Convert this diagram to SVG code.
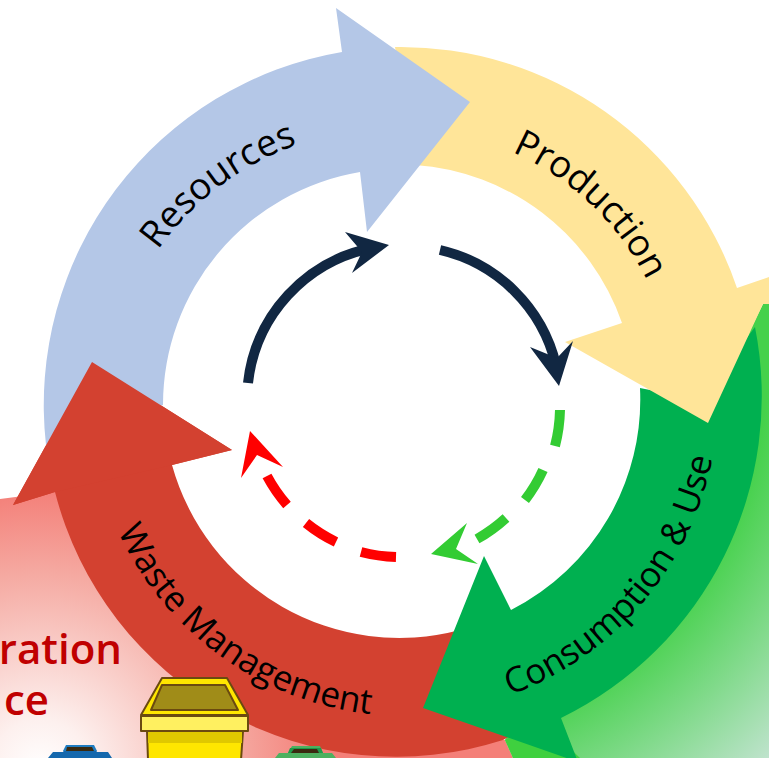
<svg xmlns="http://www.w3.org/2000/svg" width="769" height="758" viewBox="0 0 769 758">
<style>
.lab{font-family:"Open Sans","Noto Sans",sans-serif;font-size:37px;fill:#000}
.lab2{font-family:"Open Sans","Noto Sans",sans-serif;font-size:35px;fill:#000}
.big{font-family:"Open Sans","Noto Sans",sans-serif;font-size:42px;font-weight:600;fill:#c00000;text-anchor:end}
.ring{fill:none;stroke-width:10}
.binl{stroke:#6b4a10;stroke-width:2;stroke-linejoin:round}
</style>
<defs>
<radialGradient id="gg" gradientUnits="userSpaceOnUse" cx="380" cy="350" r="564"><stop offset="0.69" stop-color="#45d14b"/><stop offset="1" stop-color="#bfe3cd"/></radialGradient>
<radialGradient id="rg" gradientUnits="userSpaceOnUse" cx="40" cy="770" r="280"><stop offset="0" stop-color="#fff"/><stop offset="0.18" stop-color="#fdf0ee"/><stop offset="0.7" stop-color="#f5aaa2"/><stop offset="1" stop-color="#f47f78"/></radialGradient>
<path id="p1" d="M158,250A290,290 0 0 1 330,135"/>
<path id="p2" d="M512,152A274,274 0 0 1 676,400"/>
<path id="p3" d="M510,695A316,316 0 0 0 718,400"/>
<path id="p4" d="M118,531A316,316 0 0 0 430,715"/>
</defs>
<path id="bg-red" d="M0,499L70,490L200,660L505,740L513,758H0Z" fill="url(#rg)"/>
<g id="bg-green">
<path d="M763,304H769V758H513L505,740L520,700L720,420L750,330Z" fill="url(#gg)"/>
<path d="M505,740L513,758H580L540,720Z" fill="#3fd03f"/>
</g>
<g id="red"><path d="M13,505L92,362L232,450L172,465A236,236 0 0 0 460,630L520,730L503,740A352,352 0 0 1 55,492Z" fill="#d34130"/></g>
<g id="green"><path d="M755,327A358,358 0 0 1 561,718L578,762L423,708L484,556L511,610A236,236 0 0 0 640,388L700,400Z" fill="#00b050"/></g>
<g id="yellow"><path d="M395,47A355,355 0 0 1 737,288L769,277V304H763L708,423L565,342L622,323A236,236 0 0 0 415,165Z" fill="#ffe599"/></g>
<g id="blue"><path d="M46,445A358,358 0 0 1 342,52L336,8L470,102L367,232L360,172A236,236 0 0 0 163,405Z" fill="#b4c7e7"/></g>
<polygon id="red-head" fill="#d34130" points="13,505 92,362 232,450 172,465 55,492"/>
<g id="connectors">
<path class="ring" stroke="#112742" d="M248,383A155,155 0 0 1 372,248"/>
<polygon fill="#112742" points="389,245 345,232 362,252 352,273"/>
<path class="ring" stroke="#112742" d="M440,250A155,155 0 0 1 556,365"/>
<polygon fill="#112742" points="559,386 530,347 557,358 573,341"/>
<path class="ring" stroke="#33cc33" d="M560,410A157,157 0 0 1 555,446M543,470A157,157 0 0 1 525,500M506,518A157,157 0 0 1 477,539"/>
<polygon fill="#33cc33" points="431,554 467,523 456,549 478,564"/>
<path class="ring" stroke="#f00" d="M396,557A157,157 0 0 1 361,552M336,542A157,157 0 0 1 306,523M287,505A157,157 0 0 1 267,476"/>
<polygon fill="#f00" points="250,431 283,467 257,455 241,478"/>
</g>
<text class="lab"><textPath href="#p1">Resources</textPath></text>
<text class="lab"><textPath href="#p2">Production</textPath></text>
<text class="lab2"><textPath href="#p3">Consumption &amp; Use</textPath></text>
<text class="lab2"><textPath href="#p4">Waste Management</textPath></text>
<text class="big" x="122" y="664">ration</text>
<text class="big" x="49" y="715">ce</text>
<g id="bin-blue"><path d="M48,758L53,752H63L67,745H93L97,752H108L112,758Z" fill="#1568ad"/><path d="M66,745H94L97,751H63Z" fill="#1f7cc0"/><path d="M67,747H92L94,751H66Z" fill="#3a2a10"/></g>
<g id="bin-yellow"><path class="binl" d="M147,731H243L241,760H148Z" fill="#ffe600"/><rect x="148" y="732" width="94" height="11" fill="#e0c800"/><path class="binl" d="M162,678H227L248,715H141Z" fill="#ffe600"/><path class="binl" d="M162,685H225L238,710H151Z" fill="#a08c18"/><rect class="binl" x="141" y="716" width="107" height="15" fill="#fff060"/></g>
<g id="bin-green"><path d="M275,758L279,753H288L292,746H320L323,753H332L336,758Z" fill="#4db060"/><path d="M290,748H321L323,753H288Z" fill="#1f9a4a"/><path d="M294,749H317L319,753H291Z" fill="#3a2a10"/></g>
</svg>
